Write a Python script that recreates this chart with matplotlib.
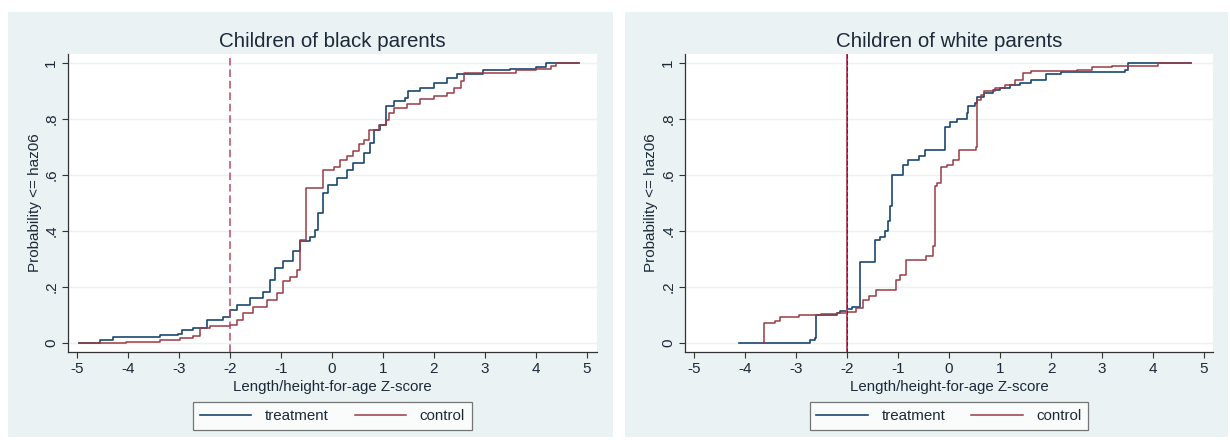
import numpy as np, matplotlib
matplotlib.use("Agg"); import matplotlib.pyplot as plt
from matplotlib.patches import Rectangle

# empirical CDF step points read per group (z-score, cumulative share)
black_treat_x = [-4.97, -4.55, -4.29, -3.83, -3.37, -3.01, -2.95, -2.72, -2.46, -2.13, -2.0, -1.87,
                 -1.61, -1.35, -1.22, -1.12, -0.96, -0.76, -0.63, -0.44, -0.34, -0.27, -0.17, -0.07,
                 0.09, 0.29, 0.42, 0.62, 0.75, 0.82, 0.95, 1.05, 1.21, 1.44, 1.5, 1.73, 2.0, 2.25,
                 2.45, 2.97, 3.5, 4.0, 4.2, 4.85]
black_treat_y = [0.0, 0.012, 0.02, 0.022, 0.027, 0.031, 0.046, 0.052, 0.082, 0.092, 0.118, 0.136,
                 0.16, 0.184, 0.226, 0.268, 0.292, 0.327, 0.363, 0.38, 0.405, 0.464, 0.536, 0.565,
                 0.589, 0.618, 0.642, 0.678, 0.714, 0.762, 0.78, 0.845, 0.863, 0.875, 0.899, 0.911,
                 0.929, 0.946, 0.962, 0.975, 0.98, 0.985, 1.0, 1.0]
black_ctrl_x = [-4.97, -4.03, -3.37, -2.98, -2.72, -2.59, -2.39, -2.0, -1.87, -1.74, -1.55, -1.28,
                -1.08, -0.96, -0.83, -0.69, -0.63, -0.51, -0.17, 0.03, 0.16, 0.29, 0.42, 0.52, 0.62,
                0.72, 0.92, 1.05, 1.12, 1.21, 1.47, 1.73, 2.0, 2.25, 2.39, 2.52, 2.59, 3.6, 4.0,
                4.3, 4.4, 4.85]
black_ctrl_y = [0.0, 0.005, 0.012, 0.018, 0.024, 0.052, 0.06, 0.064, 0.082, 0.106, 0.13, 0.154,
                0.178, 0.22, 0.235, 0.26, 0.368, 0.552, 0.618, 0.63, 0.655, 0.667, 0.685, 0.71, 0.726,
                0.762, 0.78, 0.798, 0.821, 0.84, 0.852, 0.87, 0.882, 0.894, 0.912, 0.936, 0.965, 0.975,
                0.98, 0.99, 1.0, 1.0]

white_treat_x = [-4.11, -2.86, -2.73, -2.63, -2.61, -2.2, -2.14, -2.0, -1.91, -1.74, -1.45, -1.35,
                 -1.26, -1.19, -1.15, -1.12, -0.91, -0.81, -0.58, -0.48, -0.16, -0.08, 0.02, 0.15,
                 0.35, 0.38, 0.51, 0.55, 0.68, 0.87, 1.0, 1.2, 1.4, 1.6, 1.9, 2.2, 3.45, 3.5, 4.75]
white_treat_y = [0.0, 0.0, 0.012, 0.018, 0.1, 0.106, 0.114, 0.12, 0.13, 0.29, 0.368, 0.38,
                 0.4, 0.436, 0.488, 0.6, 0.636, 0.655, 0.667, 0.69, 0.69, 0.772, 0.79, 0.8,
                 0.82, 0.845, 0.857, 0.88, 0.893, 0.905, 0.91, 0.92, 0.93, 0.94, 0.96, 0.968, 0.975,
                 1.0, 1.0]
white_ctrl_x = [-3.64, -3.63, -3.41, -3.31, -2.94, -2.5, -2.2, -2.0, -1.82, -1.69, -1.56, -1.43,
                -1.03, -0.97, -0.84, -0.45, -0.32, -0.28, -0.23, -0.16, -0.03, 0.07, 0.2, 0.52, 0.55,
                0.62, 0.68, 0.9, 1.1, 1.3, 1.45, 1.6, 2.5, 2.8, 3.2, 4.1, 4.75]
white_ctrl_y = [0.0, 0.07, 0.078, 0.093, 0.1, 0.104, 0.108, 0.112, 0.125, 0.155, 0.167, 0.19,
                0.226, 0.244, 0.298, 0.31, 0.345, 0.56, 0.57, 0.63, 0.636, 0.655, 0.69, 0.7, 0.869,
                0.887, 0.9, 0.91, 0.92, 0.94, 0.965, 0.97, 0.975, 0.985, 0.99, 1.0, 1.0]

titles = ["Children of black parents", "Children of white parents"]
cutoff = -2
xticks = list(range(-5, 6))
yticks = [0, 0.2, 0.4, 0.6, 0.8, 1.0]
ytick_labels = ["0", ".2", ".4", ".6", ".8", "1"]

BG = "#eaf2f3"; NAVY = "#1a476f"; MAROON = "#9b3a45"; INK = "#333333"; TXT = "#1c2a38"
plt.rcParams.update({"font.family": ["Liberation Sans", "DejaVu Sans"], "font.size": 11})

fig = plt.figure(figsize=(12.3, 4.43), dpi=100)
# graph-region backgrounds behind each panel
for x0, w in ((8, 605), (625, 603)):
    fig.patches.append(Rectangle((x0/1230, 6/443), w/1230, 425/443, transform=fig.transFigure,
                                 facecolor=BG, edgecolor="none", zorder=-10))

panels = [
    (black_treat_x, black_treat_y, black_ctrl_x, black_ctrl_y, [68/1230, 0.2054, 529/1230, 0.6727], 5.196),
    (white_treat_x, white_treat_y, white_ctrl_x, white_ctrl_y, [685/1230, 0.2054, 528/1230, 0.6727], 5.176),
]

for i, (tx, ty, cx, cy, rect, xr) in enumerate(panels):
    ax = fig.add_axes(rect)
    ax.set_facecolor("white")
    for y in yticks:
        ax.axhline(y, color=BG, lw=1.0, zorder=0)
    ax.plot(tx, ty, drawstyle="steps-post", color=NAVY, lw=1.2, label="treatment", zorder=3)
    ax.plot(cx, cy, drawstyle="steps-post", color=MAROON, lw=1.1, label="control", zorder=3)
    if i == 0:
        ax.axvline(cutoff, color="#b84a66", lw=1.1, dashes=(5, 2.5), zorder=4)
    else:
        ax.axvline(cutoff, color="#b84a66", lw=1.4, zorder=4)
        ax.axvline(cutoff, color="#5a1a2a", lw=0.6, dashes=(5, 2.5), zorder=4)
    ax.set_xlim(-5.176, xr); ax.set_ylim(-0.032, 1.032)
    ax.set_xticks(xticks); ax.set_xticklabels([str(t) for t in xticks], fontsize=11, color=TXT)
    ax.set_yticks(yticks)
    ax.set_yticklabels(ytick_labels, rotation=90, va="center", fontsize=11, color=TXT)
    ax.tick_params(direction="out", length=4, width=0.8, color=INK, pad=3)
    for s in ("top", "right"):
        ax.spines[s].set_visible(False)
    for s in ("left", "bottom"):
        ax.spines[s].set_color(INK); ax.spines[s].set_linewidth(0.9)
    ax.set_title(titles[i], fontsize=14.8, color=TXT, pad=5)
    ax.set_xlabel("Length/height-for-age Z-score", fontsize=10.8, color=TXT, labelpad=3)
    ax.set_ylabel("Probability <= haz06", fontsize=11, color=TXT, labelpad=2)
    cx_fig = rect[0] + rect[2] / 2
    leg = ax.legend(loc="center", bbox_to_anchor=(cx_fig, 0.061), bbox_transform=fig.transFigure,
                    ncol=2, frameon=True, fancybox=False, edgecolor="#555555", handlelength=3.4,
                    columnspacing=1.7, handletextpad=0.9, fontsize=10.9, borderpad=0.45)
    leg.get_frame().set_linewidth(0.9)
    for t in leg.get_texts():
        t.set_color(TXT)

fig.savefig("out.png", dpi=100)
